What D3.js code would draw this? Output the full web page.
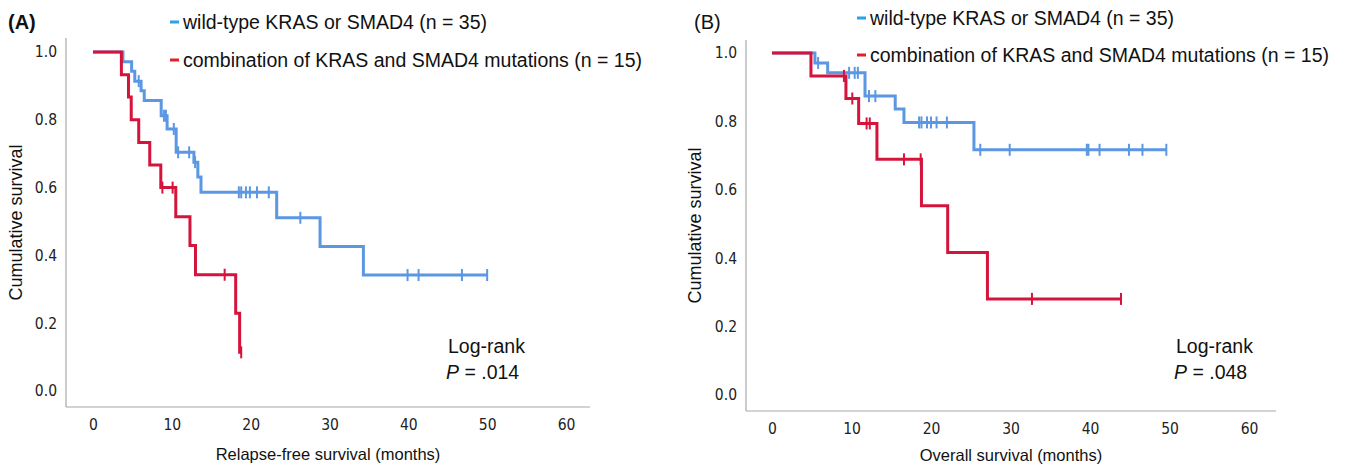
<!DOCTYPE html>
<html><head><meta charset="utf-8">
<script src="https://cdn.jsdelivr.net/npm/d3@7"></script>
<style>body{margin:0;background:#fff;} svg{display:block;}</style>
</head><body><svg id="c" width="1354" height="465"></svg>
<script>
// ---- data ----
const xTicks = [0, 10, 20, 30, 40, 50, 60];
const yTicks = [0, 0.2, 0.4, 0.6, 0.8, 1.0];
const groupLabels = ["wild-type KRAS or SMAD4 (n = 35)", "combination of KRAS and SMAD4 mutations (n = 15)"];
const panelTags = ["(A)", "(B)"];
const xTitles = ["Relapse-free survival (months)", "Overall survival (months)"];
const yTitle = "Cumulative survival";
const pValues = ["P = .014", "P = .048"];

// Panel A: relapse-free survival
const rfsWildTimes  = [3.8, 4.9, 5.3, 6.1, 6.5, 8.65, 9.4, 10.55, 12.8, 13.3, 13.7, 23.3, 28.8, 34.3];
const rfsWildSurv   = [0.971, 0.943, 0.914, 0.886, 0.857, 0.812, 0.773, 0.704, 0.675, 0.631, 0.586, 0.511, 0.426, 0.342];
const rfsWildCensor = [5.8, 9.0, 9.25, 10.25, 10.8, 12.2, 12.95, 18.5, 18.8, 19.4, 19.9, 20.8, 22.3, 26.3, 39.9, 41.3, 46.8, 50.0];
const rfsMutTimes   = [3.6, 4.5, 4.85, 5.8, 7.2, 8.6, 10.5, 12.3, 13.0, 18.1, 18.6];
const rfsMutSurv    = [0.933, 0.867, 0.8, 0.733, 0.667, 0.6, 0.514, 0.429, 0.343, 0.229, 0.114];
const rfsMutCensor  = [8.8, 10.1, 16.7, 18.8];

// Panel B: overall survival
const osWildTimes  = [5.4, 7.0, 11.7, 15.5, 16.6, 25.4];
const osWildSurv   = [0.971, 0.942, 0.874, 0.836, 0.797, 0.717];
const osWildCensor = [5.8, 9.7, 10.4, 10.8, 12.2, 13.0, 18.5, 18.8, 19.5, 20.0, 20.7, 22.0, 26.2, 29.9, 39.6, 39.8, 41.2, 44.9, 46.6, 49.6];
const osMutTimes   = [4.9, 9.3, 10.9, 13.2, 18.8, 22.1, 27.1];
const osMutSurv    = [0.933, 0.867, 0.794, 0.689, 0.553, 0.417, 0.281];
const osMutCensor  = [9.05, 10.1, 11.9, 12.3, 16.6, 18.7, 32.7, 43.9];

// ---- styles ----
const lineColors = ["#5b97e2", "#d5143c"];
const legendColors = ["#27a3e6", "#e61e28"];
const tickFont = "'Liberation Sans Narrow', 'DejaVu Sans Condensed', 'Liberation Sans', sans-serif";
const textFont = "'Liberation Sans', Arial, sans-serif";
const axisColor = "#a8a8a8";

const svg = d3.select("#c");

const panels = [
  { tag: panelTags[0], xTitle: xTitles[0], p: pValues[0],
    axisX: 66, axisTop: 38, axisBottom: 407, axisRight: 590,
    xr: [93, 566], yr: [391, 52],
    series: [
      { times: rfsWildTimes, surv: rfsWildSurv, censor: rfsWildCensor },
      { times: rfsMutTimes, surv: rfsMutSurv, censor: rfsMutCensor } ],
    tagPos: [8, 29], legendX: 170, legendY: [22, 60], logX: 448, logY: 353,
    yTitleX: 22, xTitleY: 460 },
  { tag: panelTags[1], xTitle: xTitles[1], p: pValues[1],
    axisX: 746, axisTop: 40, axisBottom: 411, axisRight: 1276,
    xr: [772, 1249], yr: [395, 53],
    series: [
      { times: osWildTimes, surv: osWildSurv, censor: osWildCensor },
      { times: osMutTimes, surv: osMutSurv, censor: osMutCensor } ],
    tagPos: [694, 29], legendX: 857, legendY: [18, 55], logX: 1176, logY: 353,
    yTitleX: 701, xTitleY: 461 }
];

function survAt(times, surv, t) {
  let s = 1;
  for (let i = 0; i < times.length; i++) if (times[i] <= t) s = surv[i];
  return s;
}

panels.forEach(P => {
  const x = d3.scaleLinear().domain([0, 60]).range(P.xr);
  const y = d3.scaleLinear().domain([0, 1]).range(P.yr);
  const g = svg.append("g");

  // axis lines
  g.append("line").attr("x1", P.axisX).attr("x2", P.axisX).attr("y1", P.axisTop).attr("y2", P.axisBottom)
    .attr("stroke", axisColor).attr("stroke-width", 1.2);
  g.append("line").attr("x1", P.axisX).attr("x2", P.axisRight).attr("y1", P.axisBottom).attr("y2", P.axisBottom)
    .attr("stroke", axisColor).attr("stroke-width", 1.2);

  const xa = g.append("g").attr("transform", `translate(0,${P.axisBottom})`)
    .call(d3.axisBottom(x).tickValues(xTicks).tickSize(0).tickPadding(12).tickFormat(d3.format("d")));
  xa.select(".domain").remove();
  xa.selectAll("text").attr("font-family", tickFont).attr("font-size", 15.5).attr("fill", "#222");

  const ya = g.append("g").attr("transform", `translate(${P.axisX},0)`)
    .call(d3.axisLeft(y).tickValues(yTicks).tickSize(0).tickPadding(9).tickFormat(d3.format(".1f")));
  ya.select(".domain").remove();
  ya.selectAll("text").attr("font-family", tickFont).attr("font-size", 15.5).attr("fill", "#222");

  // titles
  g.append("text").attr("x", (P.axisX + P.axisRight) / 2).attr("y", P.xTitleY)
    .attr("text-anchor", "middle").attr("font-family", textFont).attr("font-size", 16.5).attr("fill", "#111")
    .text(P.xTitle);
  g.append("text").attr("transform", `translate(${P.yTitleX},${(P.axisTop + P.axisBottom) / 2}) rotate(-90)`)
    .attr("text-anchor", "middle").attr("font-family", textFont).attr("font-size", 18).attr("fill", "#111")
    .text(yTitle);
  g.append("text").attr("x", P.tagPos[0]).attr("y", P.tagPos[1])
    .attr("font-family", textFont).attr("font-size", 20).attr("font-weight", P.tag === "(A)" ? "bold" : "normal")
    .attr("fill", "#111").text(P.tag);

  // curves (wild first, mutation on top)
  const line = d3.line().x(d => x(d[0])).y(d => y(d[1])).curve(d3.curveStepAfter);
  P.series.forEach((s, i) => {
    const end = Math.max(d3.max(s.times), d3.max(s.censor));
    const pts = [[0, 1]].concat(s.times.map((t, k) => [t, s.surv[k]]));
    pts.push([end, survAt(s.times, s.surv, end)]);
    g.append("path").attr("d", line(pts)).attr("fill", "none")
      .attr("stroke", lineColors[i]).attr("stroke-width", 3).attr("stroke-linejoin", "miter");
    g.selectAll(null).data(s.censor).enter().append("line")
      .attr("x1", d => x(d)).attr("x2", d => x(d))
      .attr("y1", d => y(survAt(s.times, s.surv, d)) - 6)
      .attr("y2", d => y(survAt(s.times, s.surv, d)) + 6)
      .attr("stroke", lineColors[i]).attr("stroke-width", 2);
  });

  // legend
  groupLabels.forEach((lab, i) => {
    g.append("line").attr("x1", P.legendX).attr("x2", P.legendX + 9)
      .attr("y1", P.legendY[i]).attr("y2", P.legendY[i])
      .attr("stroke", legendColors[i]).attr("stroke-width", 3);
    g.append("text").attr("x", P.legendX + 13).attr("y", P.legendY[i] + 7)
      .attr("font-family", textFont).attr("font-size", 19.5).attr("fill", "#111").text(lab);
  });

  // log-rank
  g.append("text").attr("x", P.logX).attr("y", P.logY)
    .attr("font-family", textFont).attr("font-size", 19.5).attr("fill", "#111").text("Log-rank");
  const pt = g.append("text").attr("x", P.logX - 2).attr("y", P.logY + 26)
    .attr("font-family", textFont).attr("font-size", 19.5).attr("fill", "#111");
  pt.append("tspan").attr("font-style", "italic").text(P.p.slice(0, 1));
  pt.append("tspan").text(P.p.slice(1));
});
</script>
</body></html>
